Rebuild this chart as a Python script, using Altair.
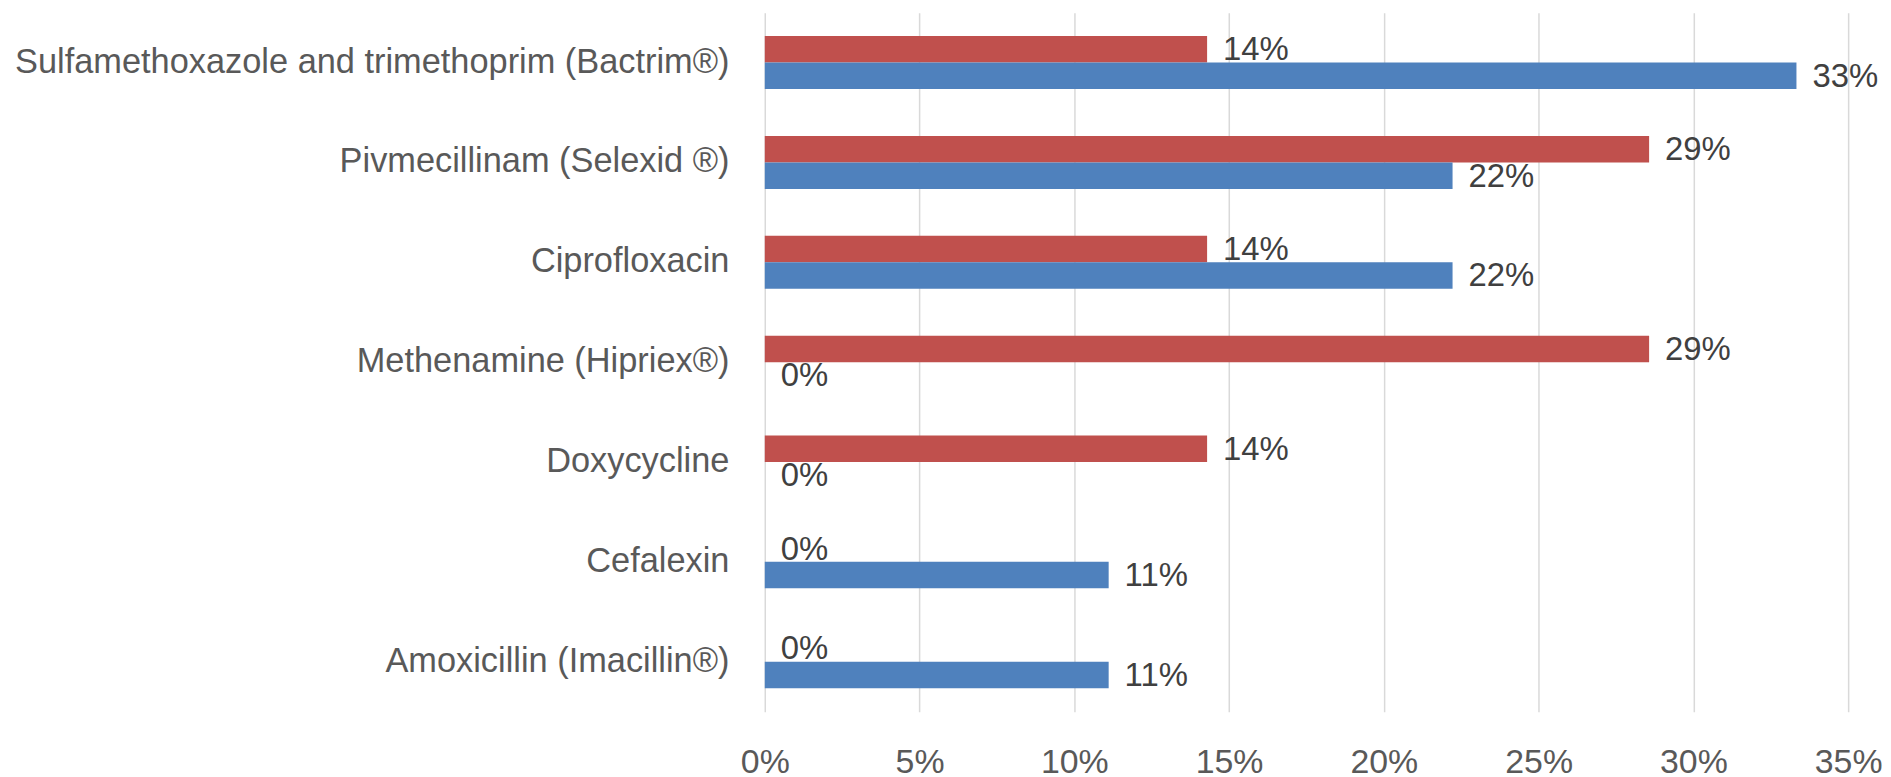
import altair as alt
import pandas as pd

categories = [
    "Sulfamethoxazole and trimethoprim (Bactrim®)",
    "Pivmecillinam (Selexid ®)",
    "Ciprofloxacin",
    "Methenamine (Hipriex®)",
    "Doxycycline",
    "Cefalexin",
    "Amoxicillin (Imacillin®)",
]
series_names = ["Series 2", "Series 1"]
red_values = [0.1429, 0.2857, 0.1429, 0.2857, 0.1429, 0.0, 0.0]
blue_values = [0.3333, 0.2222, 0.2222, 0.0, 0.0, 0.1111, 0.1111]
colors = ["#C0504D", "#4F81BD"]
x_ticks = [0, 0.05, 0.10, 0.15, 0.20, 0.25, 0.30, 0.35]

rows = []
for c, r, b in zip(categories, red_values, blue_values):
    rows.append({"drug": c, "series": series_names[0], "value": r})
    rows.append({"drug": c, "series": series_names[1], "value": b})
df = pd.DataFrame(rows)

FONT = "Liberation Sans"

y_enc = alt.Y(
    "drug:N",
    sort=categories,
    scale=alt.Scale(paddingInner=0.47, paddingOuter=0.235),
    axis=alt.Axis(
        title=None,
        domain=False,
        ticks=False,
        grid=False,
        labelFont=FONT,
        labelFontSize=34.5,
        labelColor="#595959",
        labelPadding=36,
        labelLimit=1000,
        minExtent=758,
        maxExtent=758,
    ),
)
yoff = alt.YOffset("series:N", sort=series_names)

x_enc = alt.X(
    "value:Q",
    scale=alt.Scale(domain=[0, 0.35], nice=False),
    axis=alt.Axis(
        title=None,
        values=x_ticks,
        format=".0%",
        domain=False,
        ticks=False,
        grid=True,
        gridColor="#D9D9D9",
        gridWidth=1.5,
        labelFont=FONT,
        labelFontSize=34,
        labelColor="#595959",
        labelPadding=34,
        labelFlush=False,
    ),
)

bars = alt.Chart(df).mark_bar().encode(
    x=x_enc,
    y=y_enc,
    yOffset=yoff,
    color=alt.Color(
        "series:N",
        scale=alt.Scale(domain=series_names, range=colors),
        legend=None,
    ),
)

labels = alt.Chart(df).mark_text(
    align="left", baseline="middle", dx=16, dy=1,
    font=FONT, fontSize=33, color="#404040",
).encode(
    x=alt.X("value:Q"),
    y=alt.Y("drug:N", sort=categories),
    yOffset=yoff,
    text=alt.Text("value:Q", format=".0%"),
)

chart = (
    alt.layer(bars, labels)
    .properties(
        width=1088,
        height=702,
        padding={"left": 2, "top": 3, "right": 0, "bottom": 0},
    )
    .configure_view(stroke=None)
)

chart.save("out.html", embed_options={"renderer": "svg", "actions": False})
